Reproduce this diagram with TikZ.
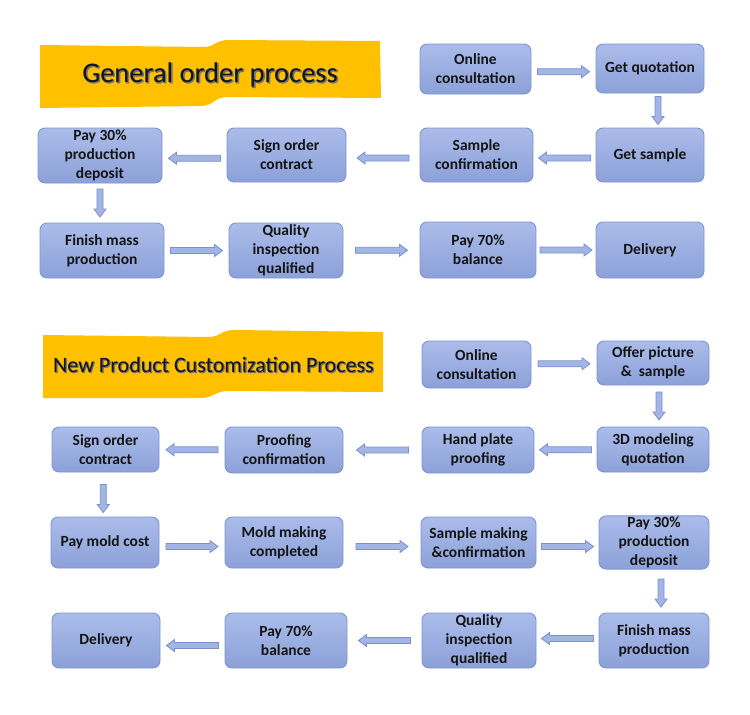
\documentclass[tikz,border=0pt]{standalone}
\usepackage{fontspec}
\setmainfont{Carlito}
\newfontfamily\glowfont[FakeBold=3]{Carlito}
\usetikzlibrary{calc}
\definecolor{boxtop}{HTML}{ABBCEA}
\definecolor{boxbot}{HTML}{8CA1D9}
\definecolor{boxline}{HTML}{7F95CE}
\definecolor{arrfill}{HTML}{A3B5E5}
\definecolor{arrline}{HTML}{7B91CE}
\definecolor{bannercol}{HTML}{FFC000}
\definecolor{txt}{HTML}{141414}
\definecolor{glow}{HTML}{737373}

\tikzset{
  box/.style={rounded corners=7pt, draw=boxline, line width=0.9pt,
    top color=boxtop, bottom color=boxbot, inner sep=1pt, align=center,
    font=\bfseries\fontsize{15.5}{19}\selectfont, text=txt},
  barr/.style={draw=arrline, fill=arrfill, line width=0.8pt, line join=miter},
  bannerst/.style={fill=bannercol, draw=none},
  titleA/.style={anchor=base, inner sep=0pt, font=\fontsize{28.5}{32}\selectfont},
  titleB/.style={anchor=base, inner sep=0pt, font=\fontsize{22}{26}\selectfont},
}

\newcommand\rarr[3]{%
  \draw[barr] ($(#1.east)!.5!(#2.west)+(-26,#3)+(0,-3)$) -- ++(44,0) -- ++(0,-3)
    -- ++(8,6) -- ++(-8,6) -- ++(0,-3) -- ++(-44,0) -- cycle;}
\newcommand\larr[3]{%
  \draw[barr] ($(#1.west)!.5!(#2.east)+(26,#3)+(0,-3)$) -- ++(-44,0) -- ++(0,-3)
    -- ++(-8,6) -- ++(8,6) -- ++(0,-3) -- ++(44,0) -- cycle;}
\newcommand\darr[4]{%
  \draw[barr] ($(#1.south)!.5!(#2.north)+(#3,#4)+(-3,-14)$) -- ++(0,20) -- ++(-3,0)
    -- ++(6,8) -- ++(6,-8) -- ++(-3,0) -- ++(0,-20) -- cycle;}

\begin{document}
\begin{tikzpicture}[x=1pt,y=-1pt]
\useasboundingbox (0,0) rectangle (750,715);
\fill[white] (0,0) rectangle (750,715);

% ---------- Banner 1 ----------
\fill[bannerst] (40,45) -- (203,47) .. controls (216,47) and (214,40) .. (230,40)
  -- (380,41) -- (381,98) -- (228,97) .. controls (213,97) and (215,106) .. (200,106)
  -- (40,108) -- cycle;
\node[titleA, text=glow] (T1g) at (211,83) {\glowfont General order process};
\node[titleA, text=txt] (T1) at (210,82) {General order process};

% ---------- Section 1 boxes ----------
\node[box, minimum width=111pt, minimum height=50pt] (A1) at (475.5,69) {Online\\consultation};
\node[box, minimum width=108pt, minimum height=49pt] (A2) at (650,68.5) {Get quotation};
\node[box, minimum width=108pt, minimum height=54pt] (A3) at (650,155) {Get sample};
\node[box, minimum width=113pt, minimum height=54pt] (A4) at (476.5,155) {Sample\\confirmation};
\node[box, minimum width=119pt, minimum height=54pt] (A5) at (286.5,155) {Sign order\\contract};
\node[box, minimum width=124pt, minimum height=55pt] (A6) at (100,155.5) {Pay 30\%\\production\\deposit};
\node[box, minimum width=124pt, minimum height=55pt] (A7) at (102,250.5) {Finish mass\\production};
\node[box, minimum width=114pt, minimum height=55pt] (A8) at (286,250.5) {Quality\\inspection\\qualified};
\node[box, minimum width=116pt, minimum height=56pt] (A9) at (478,250) {Pay 70\%\\balance};
\node[box, minimum width=108pt, minimum height=56pt] (A10) at (650,250) {Delivery};

\rarr{A1}{A2}{3}
\darr{A2}{A3}{8}{0}
\larr{A3}{A4}{3}
\larr{A4}{A5}{3}
\larr{A5}{A6}{3}
\darr{A6}{A7}{-1}{0}
\rarr{A7}{A8}{0}
\rarr{A8}{A9}{0}
\rarr{A9}{A10}{0}

% ---------- Banner 2 ----------
\fill[bannerst] (43,335) -- (208,337) .. controls (221,337) and (220,330) .. (235,330)
  -- (383,332) -- (383,392) -- (228,391) .. controls (215,391) and (214,398) .. (200,398)
  -- (43,398) -- cycle;
\node[titleB, text=glow] (T2g) at (214.3,372.8) {\glowfont New Product Customization Process};
\node[titleB, text=txt] (T2) at (213.5,372) {New Product Customization Process};

% ---------- Section 2 boxes ----------
\node[box, minimum width=109pt, minimum height=47pt] (B1) at (476.5,364.5) {Online\\consultation};
\node[box, minimum width=112pt, minimum height=44pt] (B2) at (653,363) {Offer picture\\\&~ sample};
\node[box, minimum width=112pt, minimum height=45pt] (B3) at (653,449.5) {3D modeling\\quotation};
\node[box, minimum width=112pt, minimum height=46pt] (B4) at (478,450) {Hand plate\\proofing};
\node[box, minimum width=118pt, minimum height=46pt] (B5) at (284,450) {Proofing\\confirmation};
\node[box, minimum width=107pt, minimum height=45pt] (B6) at (105.5,449.5) {Sign order\\contract};
\node[box, minimum width=108pt, minimum height=51pt] (B7) at (105,542.5) {Pay mold cost};
\node[box, minimum width=118pt, minimum height=51pt] (B8) at (284,542.5) {Mold making\\completed};
\node[box, minimum width=115pt, minimum height=51pt] (B9) at (478.5,542.5) {Sample making\\\&confirmation};
\node[box, minimum width=110pt, minimum height=51pt] (B10) at (654,542.5) {Pay 30\%\\production\\deposit};
\node[box, minimum width=110pt, minimum height=55pt] (B11) at (654,640.5) {Finish mass\\production};
\node[box, minimum width=114pt, minimum height=55pt] (B12) at (479,640.5) {Quality\\inspection\\qualified};
\node[box, minimum width=122pt, minimum height=55pt] (B13) at (286,640.5) {Pay 70\%\\balance};
\node[box, minimum width=108pt, minimum height=55pt] (B14) at (106,640.5) {Delivery};

\rarr{B1}{B2}{0}
\darr{B2}{B3}{6}{0}
\larr{B3}{B4}{0}
\larr{B4}{B5}{0}
\larr{B5}{B6}{0}
\darr{B6}{B7}{-2}{4}
\rarr{B7}{B8}{4}
\rarr{B8}{B9}{4}
\rarr{B9}{B10}{4}
\darr{B10}{B11}{7}{2}
\larr{B11}{B12}{-2}
\larr{B12}{B13}{0}
\larr{B13}{B14}{5}
\end{tikzpicture}
\end{document}
